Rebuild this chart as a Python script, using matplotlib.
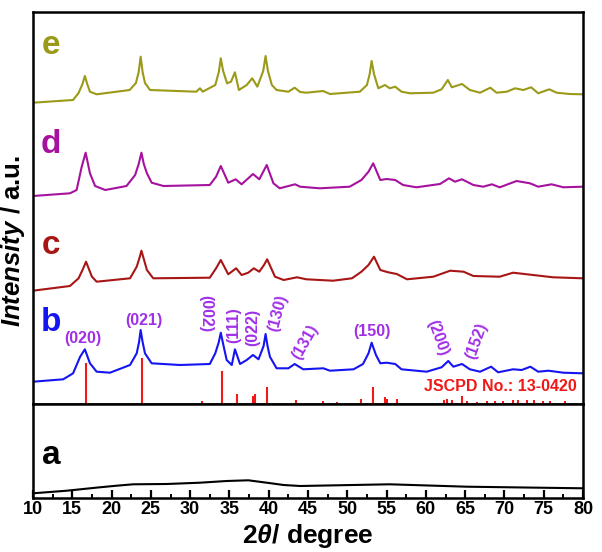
import matplotlib
matplotlib.use("Agg")
import matplotlib.pyplot as plt
from matplotlib.ticker import MultipleLocator

plt.rcParams['font.family'] = ['Liberation Sans', 'DejaVu Sans']
plt.rcParams['font.weight'] = 'bold'
plt.rcParams['mathtext.fontset'] = 'custom'
plt.rcParams['mathtext.rm'] = 'Liberation Sans:bold'
plt.rcParams['mathtext.it'] = 'Liberation Sans:italic:bold'
plt.rcParams['mathtext.bf'] = 'Liberation Sans:bold'

# ---------------- data ----------------
e_x = [10.0, 15.1, 15.8, 16.3, 16.6, 16.9, 17.25, 18.1, 22.3, 23.1, 23.45, 23.7, 23.95, 24.25, 24.9,
       30.8, 31.25, 31.6, 33.2, 33.65, 33.9, 34.2, 34.7, 35.2, 35.7, 36.2, 37.2, 37.9, 38.55,
       39.3, 39.6, 39.9, 40.4, 41.0, 42.5, 43.3, 44.0, 44.8, 46.9, 47.8, 51.6, 52.5, 52.85, 53.1,
       53.4, 53.95, 54.8, 55.4, 56.1, 56.9, 58.0, 60.95, 62.0, 62.8, 63.3, 64.6, 65.6, 66.9,
       68.2, 69.0, 70.3, 71.35, 72.4, 73.4, 74.3, 75.7, 76.65, 78.3, 79.95]
e_y = [301.3, 304, 311, 320, 328, 320, 312.3, 309.7, 314, 321, 332, 347.3, 332, 321, 314,
       312.3, 315.7, 312.3, 319, 332, 345.7, 333, 320.7, 322.3, 331.7, 314, 319, 325.7, 317.3,
       333, 348, 333, 319, 314, 312.3, 316.3, 312, 311.3, 313, 310, 312.3, 319, 330, 343,
       330, 315.7, 319, 315.7, 317.3, 312.3, 310.7, 311.3, 314.7, 324, 316.7, 320, 314, 311.3,
       316.3, 311.3, 312.3, 315.7, 314, 316.7, 310.7, 314.7, 311.3, 310, 309.7]

d_x = [10.0, 14.7, 15.55, 16.2, 16.7, 17.25, 17.9, 19.2, 21.9, 23.0, 23.45, 23.8, 24.1, 24.5, 25.1,
       26.6, 32.5, 33.3, 33.9, 34.85, 35.8, 36.55, 38.0, 38.8, 39.75, 40.6, 41.4, 43.35, 44.0,
       46.5, 50.3, 51.8, 52.7, 53.3, 54.2, 55.0, 56.1, 57.1, 58.8, 61.8, 62.95, 63.7, 64.6,
       66.05, 67.3, 68.4, 69.4, 71.55, 73.25, 74.3, 76.0, 77.5, 79.95]
d_y = [208, 210.7, 214, 237.3, 251.3, 230.7, 218, 214, 218, 229, 240, 251.3, 240, 230.7, 221.3,
       218, 219, 227.3, 238, 221.3, 224.7, 219.7, 230, 224.7, 239, 220.7, 215.7, 219.7, 217.3,
       215.7, 217.3, 224, 232.3, 240.7, 224, 225, 224, 219, 216.7, 220, 225.7, 222.3, 224.7,
       219, 217.3, 219.7, 216.7, 223, 220.7, 217.3, 219.7, 216.7, 217.3]

c_x = [10.0, 14.7, 15.8, 16.3, 16.75, 17.5, 18.1, 22.35, 23.2, 23.55, 23.8, 24.1, 24.5, 25.3,
       32.5, 33.3, 33.9, 34.85, 35.85, 36.55, 37.4, 38.1, 38.8, 39.4, 39.8, 40.8, 41.9, 43.6,
       44.8, 48.2, 50.6, 51.8, 52.7, 53.4, 54.2, 55.2, 56.3, 57.6, 60.95, 63.1, 64.8, 66.05,
       69.4, 71.1, 73.65, 76.2, 79.95]
c_y = [113.3, 118, 125.7, 134, 142.3, 127.3, 122.3, 125.7, 137.3, 146, 153.3, 145, 134, 125.7,
       126.3, 135.7, 144, 129.7, 135.7, 129, 131.3, 135.7, 132.3, 139, 144.7, 127.3, 124, 126.7,
       124.7, 123.3, 125.7, 132.3, 139, 147.3, 134, 131.7, 130, 124.7, 127.3, 133.3, 132.3, 128,
       127.3, 131.3, 129, 126.7, 125.7]

b_x = [10.0, 13.85, 15.1, 16.0, 16.6, 17.25, 18.1, 19.8, 22.35, 23.2, 23.5, 23.7, 23.95, 24.25,
       25.1, 28.7, 32.5, 33.2, 33.65, 33.9, 34.2, 34.65, 35.3, 35.7, 36.35, 37.2, 38.0, 38.7,
       39.35, 39.6, 39.85, 40.15, 41.0, 42.5, 43.3, 44.4, 46.95, 47.8, 50.8, 52.0, 52.7, 53.1,
       53.65, 54.2, 55.0, 56.1, 56.9, 60.1, 62.0, 62.85, 63.5, 64.6, 65.6, 66.9, 68.3, 69.2,
       71.1, 72.2, 73.3, 74.3, 75.6, 77.5, 79.95]
b_y = [22.3, 24.7, 30.7, 47.3, 54.7, 40.7, 32.3, 31.3, 39, 50.7, 62, 74, 62, 50.7,
       40.7, 39, 40, 50.7, 62, 71.3, 60, 44, 39, 54.7, 40, 44, 49, 44.7,
       58, 70, 58, 47.3, 35.7, 35.7, 40, 34.7, 35.7, 33.3, 34.7, 40, 50.7, 61.3,
       49, 40.7, 41.3, 40, 34.7, 32.3, 36.7, 43, 37.3, 40, 34.7, 32.3, 37.3, 31.7,
       34.7, 34, 37.3, 32.3, 33.3, 31.3, 30.7]

a_x = [10.0, 14.3, 18.5, 20.65, 22.75, 27.0, 31.25, 34.65, 37.4, 39.75, 41.9, 44.0, 55.4, 65.2, 80.0]
a_y = [4.7, 7.3, 10.7, 12.3, 13.7, 14, 15.3, 17, 17.7, 15.3, 13, 12, 13.7, 11.3, 9.7]

ref_pos = [16.75, 23.87, 31.47, 34.1, 35.9, 37.95, 38.2, 39.8, 43.5, 46.95, 48.7, 51.75, 53.25,
           54.8, 55.1, 56.3, 62.25, 62.65, 63.3, 64.55, 65.2, 66.5, 67.75, 68.8, 69.85, 71.1,
           71.75, 72.85, 73.7, 74.95, 75.8, 77.7]
ref_int = [41.3, 45.7, 3, 33, 9.7, 8, 9.7, 17.3, 4, 3, 2, 4.7, 17.3,
           6.7, 5, 4.7, 4, 5, 4, 8, 3, 2, 3, 3, 3, 4,
           4, 4, 4, 3, 3, 3]

hkl_text = ['(020)', '(021)', '(002)', '(111)', '(022)', '(130)', '(131)', '(150)', '(200)', '(152)']
hkl_x = [16.3, 24.1, 32.0, 35.5, 38.0, 41.2, 44.6, 53.1, 61.5, 66.5]
hkl_y = [65.5, 84, 90.5, 79, 77, 91, 62, 72.5, 66, 63]
hkl_rot = [0, 0, -90, 90, 90, 75, 60, 0, -70, 70]

sample_labels = ['e', 'd', 'c', 'b']
x_ticks = list(range(10, 81, 5))

# ---------------- colours ----------------
col_e = '#9a9a18'
col_d = '#a5129e'
col_c = '#a81515'
col_b = '#1515f2'
col_hkl = '#a030e8'
col_ref = '#f01818'

fig = plt.figure(figsize=(6.02, 5.52), dpi=100)
L, R = 33 / 602, 583 / 602
ax_top = fig.add_axes([L, 1 - 404 / 552, R - L, 392 / 552])
ax_bot = fig.add_axes([L, 1 - 498 / 552, R - L, 94 / 552])

lw = 1.5
ax_top.plot(e_x, e_y, color=col_e, lw=lw)
ax_top.plot(d_x, d_y, color=col_d, lw=lw)
ax_top.plot(c_x, c_y, color=col_c, lw=lw)
ax_top.plot(b_x, b_y, color=col_b, lw=lw)
ax_top.vlines(ref_pos, 0, ref_int, color=col_ref, lw=1.5)

for t, xx, yy, rr in zip(hkl_text, hkl_x, hkl_y, hkl_rot):
    ax_top.text(xx, yy, t, color=col_hkl, fontsize=11.5, fontweight='bold',
                rotation=rr, ha='center', va='center', rotation_mode='anchor')

ax_top.text(79.25, 17.5, 'JSCPD No.: 13-0420', color=col_ref, fontsize=11.5,
            fontweight='bold', ha='right', va='center')

lab_cols = [col_e, col_d, col_c, col_b]
lab_y = [359, 260, 159, 82]
for s, cc, yy in zip(sample_labels, lab_cols, lab_y):
    ax_top.text(12.3, yy, s, color=cc, fontsize=24, fontweight='bold', ha='center', va='center')

ax_bot.plot(a_x, a_y, color='black', lw=lw)
ax_bot.text(12.3, 43, 'a', color='black', fontsize=24, fontweight='bold', ha='center', va='center')

for ax in (ax_top, ax_bot):
    ax.set_xlim(10, 80)
    for sp in ax.spines.values():
        sp.set_linewidth(1.8)
    ax.set_yticks([])
ax_top.set_ylim(0, 392)
ax_bot.set_ylim(0, 94)
ax_top.set_xticks([])

ax_bot.set_xticks(x_ticks)
ax_bot.xaxis.set_minor_locator(MultipleLocator(2.5))
ax_bot.tick_params(axis='x', which='major', direction='in', length=6, width=1.6,
                   labelsize=13, pad=2)
ax_bot.tick_params(axis='x', which='minor', direction='in', length=3, width=1.4)
for lbl in ax_bot.get_xticklabels():
    lbl.set_fontweight('bold')

fig.text(308 / 602, 1 - 536 / 552, r'2$\mathit{\theta}$/ degree', fontsize=19,
         fontweight='bold', ha='center', va='center')
fig.text(0.022, 1 - 241 / 552, r'$\mathit{Intensity}$ / a.u.', rotation=90, fontsize=18.5,
         fontweight='bold', ha='center', va='center')

fig.savefig('out.png', dpi=100)
